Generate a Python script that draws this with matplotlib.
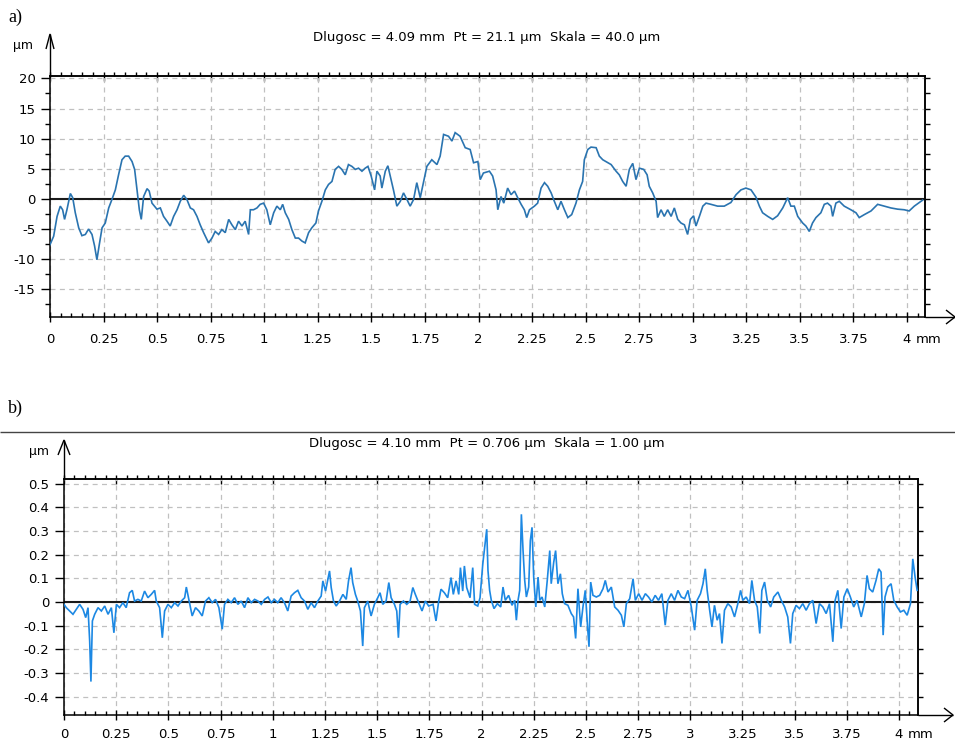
import matplotlib
matplotlib.use("Agg")
import matplotlib.pyplot as plt
from matplotlib.lines import Line2D
from matplotlib.ticker import MultipleLocator, FixedLocator
import numpy as np

plt.rcParams['font.family'] = ['DejaVu Sans']
plt.rcParams['axes.unicode_minus'] = False

W, H = 955, 741

# ---- profile a) : position [mm] and height [um] ----
a_x = [0.000, 0.017, 0.033, 0.048, 0.059, 0.068, 0.079, 0.095, 0.106, 0.118,
       0.134, 0.149, 0.165, 0.180, 0.196, 0.208, 0.219, 0.230, 0.243, 0.258,
       0.274, 0.289, 0.305, 0.320, 0.336, 0.351, 0.367, 0.383, 0.395, 0.406,
       0.417, 0.426, 0.437, 0.453, 0.463, 0.476, 0.499, 0.515, 0.530, 0.546,
       0.561, 0.577, 0.593, 0.608, 0.624, 0.639, 0.655, 0.670, 0.686, 0.701,
       0.717, 0.740, 0.756, 0.771, 0.787, 0.802, 0.818, 0.834, 0.849, 0.865,
       0.880, 0.896, 0.911, 0.927, 0.935, 0.950, 0.966, 0.981, 0.997, 1.012,
       1.028, 1.044, 1.059, 1.075, 1.086, 1.098, 1.114, 1.129, 1.145, 1.160,
       1.176, 1.191, 1.207, 1.222, 1.241, 1.253, 1.269, 1.285, 1.300, 1.316,
       1.331, 1.347, 1.362, 1.378, 1.393, 1.409, 1.425, 1.440, 1.456, 1.471,
       1.484, 1.499, 1.515, 1.526, 1.541, 1.549, 1.565, 1.577, 1.588, 1.603,
       1.619, 1.635, 1.650, 1.666, 1.681, 1.697, 1.712, 1.728, 1.743, 1.759,
       1.782, 1.806, 1.821, 1.837, 1.860, 1.876, 1.891, 1.914, 1.938, 1.961,
       1.977, 1.997, 2.008, 2.023,
       2.051, 2.066, 2.082, 2.090, 2.105, 2.118, 2.136, 2.152, 2.168, 2.183,
       2.199, 2.214, 2.225, 2.238, 2.261, 2.276, 2.292, 2.308, 2.323, 2.339,
       2.354, 2.370, 2.385, 2.401, 2.417, 2.435, 2.455, 2.471, 2.486, 2.494,
       2.510, 2.525, 2.549, 2.564, 2.580, 2.595, 2.619, 2.642, 2.657, 2.673,
       2.689, 2.704, 2.720, 2.735, 2.751, 2.771, 2.787, 2.797, 2.813, 2.829,
       2.836, 2.852, 2.867, 2.883, 2.899, 2.914, 2.930, 2.945, 2.961, 2.976,
       2.989, 3.004, 3.015, 3.031, 3.047, 3.062, 3.085, 3.116, 3.147, 3.178,
       3.202, 3.225, 3.248, 3.272, 3.295, 3.311, 3.326, 3.350, 3.373, 3.396,
       3.420, 3.443, 3.458, 3.474, 3.490, 3.513, 3.528, 3.544, 3.559, 3.575,
       3.598, 3.614, 3.629, 3.645, 3.653, 3.668, 3.684, 3.707, 3.738, 3.762,
       3.777, 3.801, 3.832, 3.863, 3.894, 3.925, 3.956, 3.987, 4.010, 4.034,
       4.057, 4.073]
a_z = [-7.6, -6.2, -2.9, -1.2, -1.8, -3.4, -1.8, 0.9, 0.2, -2.3,
       -4.8, -6.1, -5.9, -5.0, -5.9, -7.8, -10.1, -7.6, -4.8, -4.0,
       -1.5, -0.1, 1.5, 4.0, 6.5, 7.1, 7.1, 6.2, 4.9, 1.5,
       -1.8, -3.4, 0.4, 1.7, 1.3, -0.7, -1.7, -1.5, -2.9, -3.7,
       -4.5, -2.9, -1.8, -0.4, 0.6, -0.1, -1.5, -1.8, -2.9, -4.3,
       -5.6, -7.3, -6.5, -5.4, -5.9, -5.1, -5.6, -3.4, -4.3, -5.1,
       -3.7, -4.5, -3.7, -5.9, -1.8, -1.8, -1.5, -0.9, -0.7, -1.8,
       -4.3, -2.3, -1.2, -1.8, -0.9, -2.3, -3.4, -5.1, -6.5, -6.5,
       -7.0, -7.3, -5.6, -4.8, -4.0, -2.0, -0.4, 1.5, 2.4, 2.9,
       4.9, 5.4, 4.9, 4.0, 5.7, 5.4, 4.9, 5.1, 4.6, 5.1,
       5.4, 3.8, 1.5, 4.6, 3.8, 1.8, 4.6, 5.5, 3.8, 1.5,
       -1.2, -0.4, 1.0, -0.1, -1.2, -0.1, 2.7, 0.2, 2.7, 5.4,
       6.5, 5.7, 7.1, 10.7, 10.4, 9.6, 11.0, 10.4, 8.5, 8.2,
       6.0, 6.2, 3.2, 4.3,
       4.6, 3.8, 1.5, -1.8, 0.4, -0.7, 1.8, 0.7, 1.3, 0.2,
       -0.9, -1.8, -3.1, -1.8, -1.2, -0.7, 1.8, 2.7, 2.1, 1.0,
       -0.4, -1.8, -0.4, -1.8, -3.1, -2.6, -0.7, 1.5, 2.9, 6.5,
       8.2, 8.6, 8.5, 7.1, 6.5, 6.2, 5.7, 4.6, 4.0, 2.9,
       2.1, 4.9, 5.9, 3.2, 5.1, 4.9, 4.0, 2.1, 1.0, -0.4,
       -3.1, -1.8, -2.9, -1.8, -2.9, -1.5, -3.4, -4.0, -4.3, -5.9,
       -3.4, -2.8, -4.5, -2.9, -1.2, -0.7, -0.9, -1.2, -1.2, -0.6,
       0.7, 1.5, 1.8, 1.5, 0.3, -1.2, -2.3, -2.9, -3.4, -2.8,
       -1.5, 0.2, -1.2, -1.2, -2.9, -4.0, -4.5, -5.4, -4.0, -3.1,
       -2.3, -0.9, -0.7, -1.2, -2.9, -0.7, -0.4, -1.2, -1.8, -2.3,
       -3.1, -2.6, -2.0, -0.9, -1.2, -1.5, -1.7, -1.8, -2.0, -1.2,
       -0.6, -0.2]

# ---- profile b) : position [mm] and height [um] ----
b_x = [0.000, 0.011, 0.027, 0.043, 0.059, 0.075, 0.091, 0.104, 0.115, 0.123,
       0.129, 0.136, 0.147, 0.163, 0.179, 0.195, 0.211, 0.227, 0.239, 0.251,
       0.266, 0.282, 0.298, 0.314, 0.327, 0.338, 0.354, 0.370, 0.386, 0.402,
       0.418, 0.434, 0.442, 0.458, 0.471, 0.482, 0.498, 0.514, 0.530, 0.546,
       0.562, 0.578, 0.586, 0.598, 0.614, 0.630, 0.646, 0.662, 0.678, 0.694,
       0.710, 0.726, 0.742, 0.758, 0.769, 0.785, 0.801, 0.817, 0.833, 0.849,
       0.865, 0.881, 0.897, 0.913, 0.929, 0.945, 0.961, 0.977, 0.993, 1.008,
       1.024, 1.040, 1.056, 1.072, 1.088, 1.104, 1.120, 1.136, 1.152, 1.168,
       1.184, 1.200, 1.216, 1.232, 1.240, 1.253, 1.264, 1.272, 1.280, 1.291,
       1.304, 1.320, 1.336, 1.352, 1.363, 1.375, 1.383, 1.396, 1.407, 1.420,
       1.431, 1.439, 1.455, 1.471, 1.487, 1.503, 1.514, 1.527, 1.543, 1.556,
       1.567, 1.583, 1.594, 1.602, 1.610, 1.626, 1.642, 1.658, 1.671, 1.683,
       1.699, 1.715, 1.731, 1.747, 1.768, 1.782, 1.795, 1.806, 1.822, 1.838,
       1.854, 1.865, 1.878, 1.891, 1.899, 1.910, 1.918, 1.929, 1.945, 1.958,
       1.967, 1.982, 1.993, 2.006, 2.015, 2.025, 2.031, 2.039, 2.047, 2.060,
       2.076, 2.092, 2.103, 2.114, 2.130, 2.146, 2.159, 2.167, 2.175, 2.183,
       2.191, 2.199, 2.207, 2.215, 2.226, 2.234, 2.242, 2.250, 2.260, 2.271,
       2.279, 2.290, 2.303, 2.315, 2.327, 2.334, 2.346, 2.355, 2.366, 2.378,
       2.387, 2.398, 2.414, 2.430, 2.441, 2.451, 2.462, 2.475, 2.486, 2.497,
       2.507, 2.515, 2.523, 2.534, 2.550, 2.566, 2.582, 2.593, 2.606, 2.622,
       2.638, 2.654, 2.670, 2.682, 2.694, 2.710, 2.726, 2.737, 2.753, 2.769,
       2.785, 2.800, 2.816, 2.832, 2.848, 2.864, 2.880, 2.893, 2.909, 2.925,
       2.941, 2.957, 2.973, 2.989, 3.005, 3.021, 3.033, 3.049, 3.061, 3.072,
       3.081, 3.093, 3.104, 3.116, 3.129, 3.140, 3.152, 3.164, 3.180, 3.196,
       3.212, 3.228, 3.241, 3.252, 3.268, 3.284, 3.295, 3.308, 3.321, 3.333,
       3.343, 3.356, 3.369, 3.385, 3.400, 3.420, 3.436, 3.452, 3.467, 3.480,
       3.491, 3.507, 3.523, 3.539, 3.555, 3.571, 3.587, 3.603, 3.619, 3.635,
       3.651, 3.667, 3.683, 3.694, 3.707, 3.723, 3.736, 3.752, 3.767, 3.783,
       3.799, 3.819, 3.834, 3.847, 3.858, 3.874, 3.890, 3.903, 3.914, 3.924,
       3.933, 3.946, 3.962, 3.975, 3.991, 4.007, 4.023, 4.039, 4.055, 4.066,
       4.077, 4.087]
b_z = [-0.010, -0.024, -0.038, -0.052, -0.031, -0.010, -0.031, -0.066, -0.024, -0.165,
       -0.336, -0.080, -0.052, -0.024, -0.038, -0.017, -0.052, -0.024, -0.130, -0.010,
       -0.024, -0.003, -0.024, 0.039, 0.049, 0.004, 0.011, 0.004, 0.046, 0.018,
       0.032, 0.049, 0.004, -0.024, -0.151, -0.038, -0.010, -0.024, -0.003, -0.017,
       0.004, 0.018, 0.063, 0.011, -0.059, -0.024, -0.038, -0.059, 0.004, 0.018,
       -0.003, 0.011, -0.024, -0.115, -0.010, 0.011, -0.003, 0.018, -0.010, 0.004,
       -0.024, 0.018, -0.003, 0.011, 0.004, -0.010, 0.011, 0.021, -0.003, 0.011,
       -0.003, 0.018, -0.003, -0.038, 0.025, 0.039, 0.049, 0.018, 0.004, -0.031,
       -0.003, -0.024, 0.004, 0.025, 0.089, 0.046, 0.096, 0.131, 0.061, 0.004,
       -0.017, 0.004, 0.032, 0.011, 0.089, 0.145, 0.082, 0.032, 0.004, -0.038,
       -0.186, -0.024, 0.004, -0.059, -0.010, 0.018, 0.039, -0.010, 0.004, 0.082,
       0.018, -0.010, -0.038, -0.151, -0.010, 0.004, -0.010, 0.004, 0.061, 0.032,
       -0.003, -0.038, 0.004, -0.017, -0.010, -0.080, 0.004, 0.054, 0.039, 0.018,
       0.103, 0.032, 0.089, 0.032, 0.145, 0.046, 0.152, 0.061, 0.018, 0.145,
       -0.010, -0.017, 0.018, 0.159, 0.230, 0.307, 0.133, 0.049, 0.007, -0.028,
       -0.007, -0.021, 0.063, 0.007, 0.028, -0.014, 0.007, -0.077, 0.007, 0.049,
       0.370, 0.217, 0.091, 0.021, 0.063, 0.259, 0.315, 0.105, -0.021, 0.105,
       0.007, 0.021, -0.021, 0.091, 0.217, 0.077, 0.168, 0.217, 0.077, 0.119,
       0.035, -0.007, -0.014, -0.049, -0.063, -0.154, 0.056, -0.105, -0.021, 0.049,
       -0.091, -0.189, 0.084, 0.028, 0.021, 0.028, 0.056, 0.091, 0.042, 0.063,
       -0.021, -0.035, -0.056, -0.105, -0.007, 0.014, 0.098, 0.007, 0.035, 0.007,
       0.035, 0.021, 0.000, 0.028, 0.007, 0.035, -0.098, 0.007, 0.035, 0.007,
       0.049, 0.021, 0.014, 0.049, -0.021, -0.119, 0.007, 0.035, 0.077, 0.140,
       0.049, -0.035, -0.105, -0.014, -0.077, -0.049, -0.175, -0.035, -0.007, -0.021,
       -0.063, -0.007, 0.049, 0.007, 0.021, -0.007, 0.091, 0.007, -0.021, -0.133,
       0.049, 0.084, 0.007, -0.021, 0.021, 0.042, 0.007, -0.021, -0.063, -0.175,
       -0.049, -0.014, -0.028, -0.007, -0.035, -0.007, 0.007, -0.091, -0.007, -0.021,
       -0.049, -0.007, -0.168, 0.007, 0.049, -0.112, 0.021, 0.056, 0.021, -0.021,
       0.007, -0.063, -0.007, 0.112, 0.056, 0.042, 0.091, 0.140, 0.126, -0.140,
       0.021, 0.063, 0.077, 0.007, -0.021, -0.042, -0.035, -0.056, -0.007, 0.182,
       0.105, 0.049]

x_ticks = [0, 0.25, 0.5, 0.75, 1, 1.25, 1.5, 1.75, 2, 2.25, 2.5, 2.75, 3,
           3.25, 3.5, 3.75, 4]
x_tick_labels = ["0", "0.25", "0.5", "0.75", "1", "1.25", "1.5", "1.75", "2",
                 "2.25", "2.5", "2.75", "3", "3.25", "3.5", "3.75", "4"]

a_yticks = [20, 15, 10, 5, 0, -5, -10, -15]
a_ylabels = ["20", "15", "10", "5", "0", "-5", "-10", "-15"]
b_yticks = [0.5, 0.4, 0.3, 0.2, 0.1, 0, -0.1, -0.2, -0.3, -0.4]
b_ylabels = ["0.5", "0.4", "0.3", "0.2", "0.1", "0", "-0.1", "-0.2", "-0.3", "-0.4"]

a_title = "Dlugosc = 4.09 mm  Pt = 21.1 \u00b5m  Skala = 40.0 \u00b5m"
b_title = "Dlugosc = 4.10 mm  Pt = 0.706 \u00b5m  Skala = 1.00 \u00b5m"

PT = 72.0 / 100.0          # points per pixel at 100 dpi
GRID = '#c0c0c0'
TICK_FS = 9.5

fig = plt.figure(figsize=(W / 100, H / 100), dpi=100)
fig.patch.set_facecolor('white')


def fx(px):
    return px / W


def fy(py):
    return 1 - py / H


def fig_line(xs, ys, lw=1.0, color='black'):
    fig.add_artist(Line2D([fx(v) for v in xs], [fy(v) for v in ys],
                          transform=fig.transFigure, color=color, lw=lw,
                          solid_capstyle='butt', solid_joinstyle='miter'))


def panel(box, xmax, ylim, yticks, ylabels, yminor, right_step, xs, zs,
          color, title, title_y, arrow_top, arrow_w, unit_xy, xarrow_end, xpad):
    left, top, right, bottom = box
    ax = fig.add_axes([fx(left), fy(bottom), (right - left) / W, (bottom - top) / H])
    ax.set_xlim(0, xmax)
    ax.set_ylim(*ylim)
    ax.set_axisbelow(True)

    ax.set_xticks(x_ticks)
    ax.set_xticklabels(x_tick_labels, fontsize=TICK_FS)
    ax.xaxis.set_minor_locator(MultipleLocator(0.05))
    ax.set_yticks(yticks)
    ax.set_yticklabels(ylabels, fontsize=TICK_FS)
    if yminor:
        ax.yaxis.set_minor_locator(MultipleLocator(yminor))
    ax.tick_params(axis='x', which='major', direction='inout', length=10 * PT,
                   width=1.0, pad=xpad)
    ax.tick_params(axis='x', which='minor', direction='in', length=4 * PT, width=1.0)
    ax.tick_params(axis='y', which='major', direction='out', length=9 * PT,
                   width=1.0, pad=4)
    ax.tick_params(axis='y', which='minor', direction='out', length=5 * PT, width=1.0)

    for s in ax.spines.values():
        s.set_linewidth(1.1)
        s.set_color('black')

    top_ax = ax.secondary_xaxis('top')
    top_ax.xaxis.set_major_locator(FixedLocator(x_ticks))
    top_ax.xaxis.set_minor_locator(MultipleLocator(0.05))
    top_ax.tick_params(which='major', direction='inout', length=9 * PT, width=1.0,
                       labeltop=False)
    top_ax.tick_params(which='minor', direction='out', length=4 * PT, width=1.0)
    top_ax.spines['top'].set_linewidth(1.1)

    right_ax = ax.secondary_yaxis('right')
    right_ax.yaxis.set_major_locator(MultipleLocator(right_step))
    right_ax.tick_params(which='major', direction='out', length=5 * PT, width=1.0,
                         labelright=False)
    right_ax.spines['right'].set_linewidth(1.1)

    ax.grid(True, which='major', color=GRID, linestyle=(0, (4, 3.5)), lw=0.9)
    ax.axhline(0, color='#1a1a1a', lw=1.5, zorder=2)
    ax.plot(xs, zs, color=color, lw=1.2, zorder=3, solid_joinstyle='miter')

    # unit after the last tick label, on the same top line as the labels
    label_drop = 5 + xpad / PT
    ax.annotate('mm', xy=(4, 0), xycoords=('data', 'axes fraction'),
                xytext=(9, -label_drop), textcoords='offset pixels',
                ha='left', va='top', fontsize=TICK_FS)

    # axis arrows
    fig_line([left, left], [top, arrow_top])
    fig_line([left - arrow_w, left, left + arrow_w],
             [arrow_top + 15, arrow_top, arrow_top + 15])
    fig_line([right, xarrow_end], [bottom, bottom])
    fig_line([xarrow_end - 9, xarrow_end, xarrow_end - 9],
             [bottom - 7, bottom, bottom + 7])

    fig.text(fx(unit_xy[0]), fy(unit_xy[1]), '\u00b5m', ha='center', va='center',
             fontsize=9)
    fig.text(fx(487), fy(title_y), title, ha='center', va='center', fontsize=9.5)
    return ax


panel((50, 76, 925, 317), 4.084, (-19.6, 20.4), a_yticks, a_ylabels, 2.5, 2.5,
      a_x, a_z, '#2a74b0', a_title, 38, 34, 4, (23, 46), 955, 8)
panel((64, 479, 918, 715), 4.091, (-0.477, 0.519), b_yticks, b_ylabels, None, 0.1,
      b_x, b_z, '#1c88e3', b_title, 444, 440, 6, (39, 451), 953, 6)

# panel letters and separator
serif = ['Liberation Serif', 'DejaVu Serif']
fig.text(fx(8), fy(17), 'a)', ha='left', va='center', fontsize=13, family=serif)
fig.text(fx(8), fy(408), 'b)', ha='left', va='center', fontsize=13, family=serif)
fig_line([0, W], [432, 432], lw=1.0, color='#444444')

fig.savefig('out.png', dpi=100, facecolor='white')
